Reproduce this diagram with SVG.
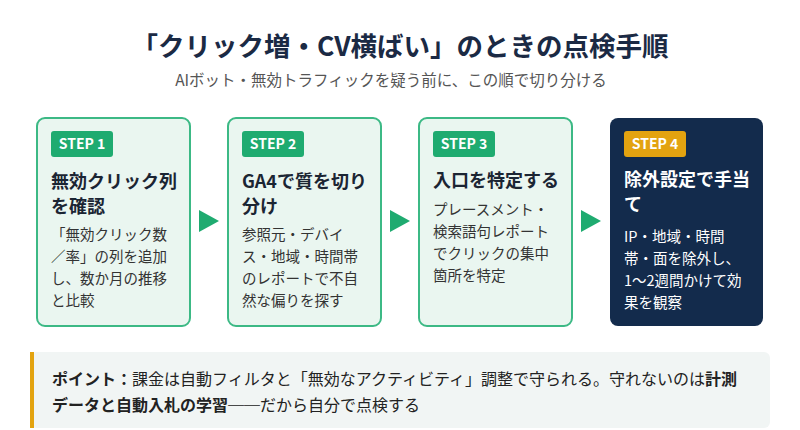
<svg xmlns="http://www.w3.org/2000/svg" width="800" height="430" viewBox="0 0 800 430">
<style>
text{font-family:"Noto Sans CJK JP","Noto Sans",sans-serif}
.box{fill:#eaf6f0;stroke:#3cb985;stroke-width:2}
.dark{fill:#132b4c}
.badge{fill:#1fab70}
.bt{fill:#fff;font-size:14px;font-weight:700}
.ti{fill:#1b2533;font-size:18px;font-weight:700}
.bd{fill:#333;font-size:14.5px}
.tiw{fill:#fff;font-size:18px;font-weight:700}
.bdw{fill:#fff;font-size:14.5px}
.arr{fill:#1fab70}
</style>
<rect width="800" height="430" fill="#fff"/>
<text x="400" y="56" text-anchor="middle" font-size="26.5" font-weight="700" fill="#1b2a44">「クリック増・CV横ばい」のときの点検手順</text>
<text x="391" y="86" text-anchor="middle" font-size="15.5" fill="#555">AIボット・無効トラフィックを疑う前に、この順で切り分ける</text>
<g id="step1">
<rect class="box" x="37" y="118" width="153" height="208" rx="8"/>
<rect class="badge" x="51" y="131" width="62" height="26" rx="3"/>
<text class="bt" x="82" y="149" text-anchor="middle">STEP 1</text>
<text class="ti" x="51" y="188">無効クリック列</text>
<text class="ti" x="51" y="213">を確認</text>
<text class="bd" x="51" y="240">「無効クリック数</text>
<text class="bd" x="51" y="262">／率」の列を追加</text>
<text class="bd" x="51" y="284">し、数か月の推移</text>
<text class="bd" x="51" y="306">と比較</text>
</g>
<g id="step2">
<rect class="box" x="228" y="118" width="153" height="208" rx="8"/>
<rect class="badge" x="242" y="131" width="62" height="26" rx="3"/>
<text class="bt" x="273" y="149" text-anchor="middle">STEP 2</text>
<text class="ti" x="242" y="188">GA4で質を切り</text>
<text class="ti" x="242" y="213">分け</text>
<text class="bd" x="242" y="240">参照元・デバイ</text>
<text class="bd" x="242" y="262">ス・地域・時間帯</text>
<text class="bd" x="242" y="284">のレポートで不自</text>
<text class="bd" x="242" y="306">然な偏りを探す</text>
</g>
<g id="step3">
<rect class="box" x="419" y="118" width="153" height="208" rx="8"/>
<rect class="badge" x="433" y="131" width="62" height="26" rx="3"/>
<text class="bt" x="464" y="149" text-anchor="middle">STEP 3</text>
<text class="ti" x="433" y="187">入口を特定する</text>
<text class="bd" x="433" y="215">プレースメント・</text>
<text class="bd" x="433" y="237">検索語句レポート</text>
<text class="bd" x="433" y="259">でクリックの集中</text>
<text class="bd" x="433" y="281">箇所を特定</text>
</g>
<g id="step4">
<rect class="dark" x="610" y="118" width="153" height="208" rx="8"/>
<rect fill="#e3a310" x="624" y="131" width="62" height="26" rx="3"/>
<text class="bt" x="655" y="149" text-anchor="middle">STEP 4</text>
<text class="tiw" x="624" y="186">除外設定で手当</text>
<text class="tiw" x="624" y="211">て</text>
<text class="bdw" x="624" y="242">IP・地域・時間</text>
<text class="bdw" x="624" y="264">帯・面を除外し、</text>
<text class="bdw" x="624" y="286">1〜2週間かけて効</text>
<text class="bdw" x="624" y="308">果を観察</text>
</g>
<g id="connectors">
<polygon class="arr" points="199,210 219,221 199,232"/>
<polygon class="arr" points="390,210 410,221 390,232"/>
<polygon class="arr" points="581,210 601,221 581,232"/>
</g>
<g id="note">
<rect x="30" y="352" width="740" height="76" rx="6" fill="#f1f5f4"/>
<rect x="30" y="352" width="4" height="76" fill="#e3a310"/>
<text x="52" y="385" font-size="16" fill="#222"><tspan font-weight="700">ポイント：</tspan>課金は自動フィルタと「無効なアクティビティ」調整で守られる。守れないのは<tspan font-weight="700">計測</tspan></text>
<text x="52" y="411" font-size="16" fill="#222"><tspan font-weight="700">データと自動入札の学習</tspan>──だから自分で点検する</text>
</g>
</svg>
